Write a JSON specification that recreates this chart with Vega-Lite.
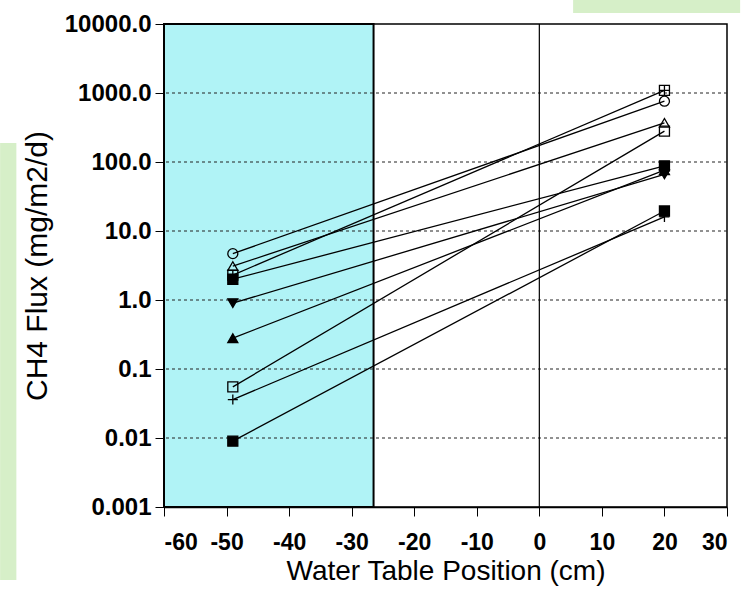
{
  "$schema": "https://vega.github.io/schema/vega-lite/v6.json",
  "autosize": "none",
  "width": 563,
  "height": 483,
  "padding": {"left": 164, "top": 24, "right": 23, "bottom": 95},
  "background": "white",
  "config": {
    "view": {"stroke": "black", "strokeWidth": 1.5},
    "font": "Liberation Sans",
    "axis": {"labelFont": "Liberation Sans", "titleFont": "Liberation Sans", "labelColor": "black", "titleColor": "black", "domainColor": "black", "tickColor": "black"}
  },
  "datasets": {
    "flux": [
      {"series": "A", "wt": -49, "flux": 4.7},
      {"series": "A", "wt": 20, "flux": 760},
      {"series": "B", "wt": -49, "flux": 3.1},
      {"series": "B", "wt": 20, "flux": 370},
      {"series": "C", "wt": -49, "flux": 2.3},
      {"series": "C", "wt": 20, "flux": 1090},
      {"series": "D", "wt": -49, "flux": 2.0},
      {"series": "D", "wt": 20, "flux": 88},
      {"series": "E", "wt": -49, "flux": 0.9},
      {"series": "E", "wt": 20, "flux": 66},
      {"series": "F", "wt": -49, "flux": 0.28},
      {"series": "F", "wt": 20, "flux": 76},
      {"series": "G", "wt": -49, "flux": 0.055},
      {"series": "G", "wt": 20, "flux": 280},
      {"series": "H", "wt": -49, "flux": 0.036},
      {"series": "H", "wt": 20, "flux": 16},
      {"series": "I", "wt": -49, "flux": 0.009},
      {"series": "I", "wt": 20, "flux": 19.5}
    ],
    "shade": [{"x1": -60, "x2": -26.5, "y1": 0.001, "y2": 10000}],
    "grid": [{"v": 0.01}, {"v": 0.1}, {"v": 1}, {"v": 10}, {"v": 100}, {"v": 1000}],
    "deco": [
      {"x1": 5.4, "x2": 32.1, "y1": 14400, "y2": 22300, "c": "top"},
      {"x1": -86.2, "x2": -83.6, "y1": 0.0000875, "y2": 188, "c": "left"}
    ]
  },
  "layer": [
    {
      "data": {"name": "deco"},
      "mark": {"type": "rect", "clip": false, "fill": "#d6efc8", "stroke": null},
      "encoding": {
        "x": {"field": "x1", "type": "quantitative", "scale": {"domain": [-60, 30]}},
        "x2": {"field": "x2"},
        "y": {"field": "y1", "type": "quantitative", "scale": {"type": "log", "domain": [0.001, 10000]}},
        "y2": {"field": "y2"}
      }
    },
    {
      "data": {"name": "shade"},
      "mark": {"type": "rect", "fill": "#b0f3f6", "stroke": "black", "strokeWidth": 2},
      "encoding": {
        "x": {"field": "x1", "type": "quantitative", "scale": {"domain": [-60, 30], "nice": false},
          "axis": {"values": [-60, -55, -50, -45, -40, -35, -30, -25, -20, -15, -10, -5, 0, 5, 10, 15, 20, 25, 30], "labelExpr": "datum.value % 10 === 0 ? toString(datum.value) : ''", "title": "Water Table Position (cm)", "titleFontSize": 28, "titleFontWeight": "normal", "labelFontSize": 23, "labelFontWeight": "bold", "tickSize": 9, "labelPadding": 15, "titlePadding": 3, "grid": false, "domainWidth": 1.5}},
        "x2": {"field": "x2"},
        "y": {"field": "y1", "type": "quantitative", "scale": {"type": "log", "domain": [0.001, 10000], "nice": false},
          "axis": {"values": [0.001, 0.01, 0.1, 1, 10, 100, 1000, 10000], "labelExpr": "datum.value >= 1 ? format(datum.value, '.1f') : (datum.value < 0.005 ? '0.001' : (datum.value < 0.05 ? '0.01' : '0.1'))", "title": "CH4 Flux (mg/m2/d)", "titleFontSize": 30, "titleFontWeight": "normal", "labelFontSize": 24, "labelFontWeight": "bold", "tickSize": 9, "labelPadding": 4, "titlePadding": 12, "grid": false, "domainWidth": 1.5}},
        "y2": {"field": "y2"}
      }
    },
    {
      "data": {"name": "grid"},
      "mark": {"type": "rule", "color": "#222", "strokeWidth": 1, "strokeDash": [3, 3]},
      "encoding": {"y": {"field": "v", "type": "quantitative"}}
    },
    {
      "data": {"values": [{"x": 0}]},
      "mark": {"type": "rule", "color": "black", "strokeWidth": 1.2},
      "encoding": {"x": {"field": "x", "type": "quantitative"}}
    },
    {
      "data": {"name": "flux"},
      "mark": {"type": "line", "color": "black", "strokeWidth": 1.3},
      "encoding": {
        "x": {"field": "wt", "type": "quantitative"},
        "y": {"field": "flux", "type": "quantitative"},
        "detail": {"field": "series", "type": "nominal"}
      }
    },
    {
      "data": {"name": "flux"},
      "mark": {"type": "point", "filled": true, "stroke": "black", "strokeWidth": 1.3, "size": 100, "opacity": 1},
      "encoding": {
        "x": {"field": "wt", "type": "quantitative"},
        "y": {"field": "flux", "type": "quantitative"},
        "shape": {"field": "series", "type": "nominal", "legend": null,
          "scale": {"domain": ["A", "B", "C", "D", "E", "F", "G", "H", "I"],
            "range": ["circle", "triangle-up", "M-1,-1H1V1H-1Z M-1,0H1 M0,-1V1", "square", "triangle-down", "triangle-up", "square", "M-1,0H1M0,-1V1", "square"]}},
        "fill": {"field": "series", "type": "nominal", "legend": null,
          "scale": {"domain": ["A", "B", "C", "D", "E", "F", "G", "H", "I"],
            "range": ["transparent", "transparent", "transparent", "black", "black", "black", "transparent", "transparent", "black"]}}
      }
    }
  ]
}
